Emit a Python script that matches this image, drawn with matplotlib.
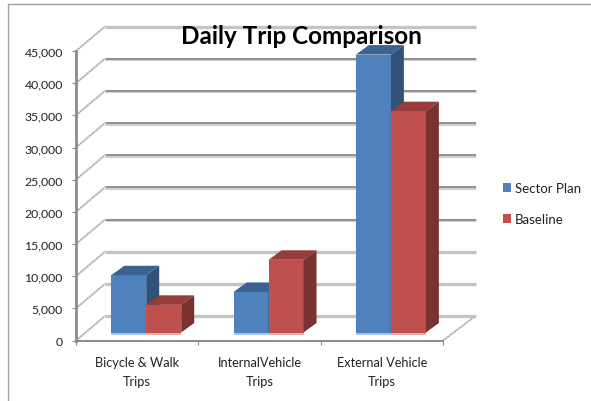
import matplotlib
matplotlib.use('Agg')
import matplotlib.pyplot as plt
from matplotlib.lines import Line2D
from matplotlib.patches import Patch, Polygon

categories = ['Bicycle & Walk\nTrips', 'InternalVehicle\nTrips', 'External Vehicle\nTrips']
sector_plan = [8900, 6300, 43200]
baseline = [4300, 11300, 34400]
y_ticks = [0, 5000, 10000, 15000, 20000, 25000, 30000, 35000, 40000, 45000]
# which wall lines look pale and thick in the picture
pale_lines = [0, 5000, 10000, 45000]

plt.rcParams['font.family'] = ['Lato', 'DejaVu Sans']

W, H = 591, 402
fig = plt.figure(figsize=(W / 100, H / 100), dpi=100)
ax = fig.add_axes([76 / W, 1 - 341.5 / H, 367 / W, 289.5 / H])
ax.set_xlim(0, 3)
ax.set_ylim(0, 45000)

# depth of the fake 3d box and of the bars, in data units
wall_dx = 29 / 122.33
wall_end = 3 + 32.5 / 122.33
wall_dy = 24.5 * 45000 / 289.5
bar_dx = 13 / 122.33
bar_dy = 9.5 * 45000 / 289.5
bar_base = 8 * 45000 / 289.5
bar_w = 0.286
bar_start = 0.288

# back wall and the slanted lines on the side wall
for v in y_ticks:
    if v in pale_lines:
        ax.plot([wall_dx, wall_end], [v + wall_dy, v + wall_dy], color='#c4c4c4', lw=2.4,
                clip_on=False, zorder=1, solid_capstyle='butt')
    else:
        ax.plot([wall_dx, wall_end], [v + wall_dy - 90, v + wall_dy - 90], color='#cfcfcf', lw=2.2,
                clip_on=False, zorder=1, solid_capstyle='butt')
        ax.plot([wall_dx, wall_end], [v + wall_dy, v + wall_dy], color='#8a8a8a', lw=1.3,
                clip_on=False, zorder=1, solid_capstyle='butt')
    ax.plot([0, wall_dx], [v, v + wall_dy], color='#d2d2d2', lw=1.5, clip_on=False, zorder=1)
    ax.plot([0, wall_dx], [v, v + wall_dy], color='#9a9a9a', lw=0.7, ls=(0, (1.5, 1.5)),
            clip_on=False, zorder=1)

# right edge of the floor
ax.plot([3, wall_end], [0, wall_dy], color='#d2d2d2', lw=1.5, clip_on=False, zorder=1)
ax.plot([3, wall_end], [0, wall_dy], color='#9a9a9a', lw=0.7, ls=(0, (1.5, 1.5)),
        clip_on=False, zorder=1)


def draw_bar(x, value, front, top, side, glow, z):
    ax.bar(x, value, bar_w, bottom=bar_base, align='edge', color=front, lw=0, zorder=z, clip_on=False)
    y1 = bar_base + value
    x1 = x + bar_w
    ax.add_patch(Polygon([(x, y1), (x1, y1), (x1 + bar_dx, y1 + bar_dy), (x + bar_dx, y1 + bar_dy)],
                         color=top, lw=0, zorder=z, clip_on=False))
    ax.add_patch(Polygon([(x1, bar_base), (x1, y1), (x1 + bar_dx, y1 + bar_dy), (x1 + bar_dx, bar_base + bar_dy)],
                         color=side, lw=0, zorder=z, clip_on=False))
    # pale reflection under the bar
    ax.bar(x, 450, bar_w, bottom=bar_base - 450, align='edge', color=glow, lw=0, zorder=z, clip_on=False)


for i in range(3):
    x = i + bar_start
    # red sits in front of the blue side face
    draw_bar(x, sector_plan[i], '#4f81bd', '#3c6291', '#325178', '#a9c4e4', 2)
    draw_bar(x + bar_w, baseline[i], '#c0504d', '#963c3a', '#7a3230', '#e3aeac', 3)

ax.set_title('Daily Trip Comparison', fontsize=17.5, fontweight='bold', color='black',
             x=(301.5 - 76) / 367, y=1.026, pad=0, zorder=10)

ax.set_yticks(y_ticks)
ax.set_yticklabels(['{:,}'.format(v) for v in y_ticks], fontsize=8.8, color='#222222')
ax.set_xticks([0, 1, 2, 3])
ax.set_xticklabels([])
ax.set_xticks([0.5, 1.5, 2.5], labels=categories, minor=True)
ax.tick_params(axis='x', which='major', length=3, color='#8c8c8c', width=0.8)
ax.tick_params(axis='x', which='minor', length=0, pad=11, labelsize=9.2, labelcolor='#222222')
ax.tick_params(axis='y', length=3, color='#8c8c8c', width=0.8, pad=6.5)
for label in ax.get_xticklabels(minor=True):
    label.set_linespacing(1.72)

for s in ['top', 'right']:
    ax.spines[s].set_visible(False)
for s in ['left', 'bottom']:
    ax.spines[s].set_color('#8c8c8c')
ax.spines['left'].set_linewidth(2)
ax.spines['bottom'].set_linewidth(1.5)
ax.patch.set_alpha(0)

handles = [Patch(color='#4f81bd', lw=0), Patch(color='#c0504d', lw=0)]
ax.legend(handles, ['Sector Plan', 'Baseline'], loc='center left', bbox_to_anchor=(503 / W, 1 - 204.5 / H),
          bbox_transform=fig.transFigure, frameon=False, fontsize=9.5, handlelength=0.62, handleheight=0.62,
          handletextpad=0.28, labelspacing=1.45, borderpad=0, borderaxespad=0, labelcolor='#222222')

# outer chart frame
fig.add_artist(Line2D([7.5 / W, 7.5 / W, 1], [0, 1 - 5 / H, 1 - 5 / H], color='#a0a0a0', lw=1))

fig.savefig('out.png', dpi=100)
